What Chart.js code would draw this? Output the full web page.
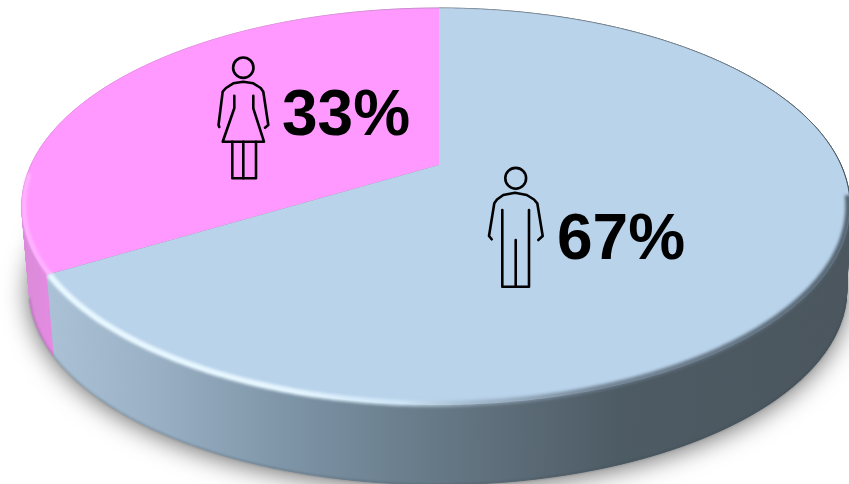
<!DOCTYPE html>
<html>
<head>
<meta charset="utf-8">
<style>
  html, body { margin: 0; padding: 0; background: #fff; overflow: hidden; }
  #chartGender { display: block; }
</style>
<script src="https://cdn.jsdelivr.net/npm/chart.js@4"></script>
</head>
<body>
<canvas id="chartGender" width="849" height="484"></canvas>
<script>
var categories = ["Men", "Women"];
var shares = [67, 33];
var shareColors = ["#B9D3EB", "#FF99FF"];

// perspective of the disc: apex of the slices and how the circle maps on screen
var APEX_X = 439, APEX_Y = 165;
var SIDE_L = 408, SIDE_R = 402, DEPTH_B = 189.8, TILT = 0.209;
var WALL_DROP = 84, WALL_SHRINK = 0.982, WALL_SHRINK_R = 0.992;
// the circle's widest points sit a little in front of its middle
var SIDE_ANGLE = 0.21;
// small camera yaw, keeps the top of the disc on the first slice boundary
var YAW = 0.045;

function topPoint(a, k) {
  var t = a + YAW * Math.sin(a + Math.PI / 2);
  var u = Math.cos(t) * (k || 1), v = Math.sin(t) * (k || 1);
  var w = 1 - TILT * v;
  return { x: APEX_X + (u < 0 ? SIDE_L : SIDE_R) * u / w, y: APEX_Y + DEPTH_B * v / w };
}

function bottomPoint(a) {
  var p = topPoint(a);
  var sx = p.x > APEX_X ? WALL_SHRINK_R : WALL_SHRINK;
  return {
    x: APEX_X + (p.x - APEX_X) * sx,
    y: APEX_Y + WALL_DROP + (p.y - APEX_Y) * WALL_SHRINK
  };
}

function tracePoints(ctx, fn, from, to, k, joined) {
  var n = Math.max(4, Math.ceil(Math.abs(to - from) / 0.01));
  for (var i = 0; i <= n; i++) {
    var p = fn(from + (to - from) * i / n, k);
    if (i === 0 && !joined) ctx.moveTo(p.x, p.y); else ctx.lineTo(p.x, p.y);
  }
}

function xGradient(ctx, stops) {
  var g = ctx.createLinearGradient(0, 0, 849, 0);
  stops.forEach(function (s) { g.addColorStop(s[0] / 849, s[1]); });
  return g;
}

function drawShadow(ctx) {
  ctx.save();
  ctx.shadowColor = "rgba(0,0,0,0.6)";
  ctx.shadowBlur = 26;
  ctx.shadowOffsetY = 3;
  ctx.fillStyle = "#888";
  ctx.beginPath();
  tracePoints(ctx, bottomPoint, 0, Math.PI * 2);
  ctx.closePath();
  ctx.fill();
  ctx.restore();
}

function drawWall(ctx, arc, fill) {
  ctx.fillStyle = fill;
  ctx.strokeStyle = fill;
  ctx.lineWidth = 1;
  var step = 0.012, a = arc.startAngle;
  while (a < arc.endAngle) {
    var b = Math.min(a + step, arc.endAngle);
    var p1 = topPoint(a), p2 = topPoint(b), p3 = bottomPoint(b), p4 = bottomPoint(a);
    ctx.beginPath();
    ctx.moveTo(p1.x, p1.y);
    ctx.lineTo(p2.x, p2.y);
    ctx.lineTo(p3.x, p3.y);
    ctx.lineTo(p4.x, p4.y);
    ctx.closePath();
    ctx.fill();
    ctx.stroke();
    a = b;
  }
}

function drawTop(ctx, arc, color) {
  ctx.fillStyle = color;
  ctx.beginPath();
  ctx.moveTo(APEX_X, APEX_Y);
  tracePoints(ctx, topPoint, arc.startAngle, arc.endAngle, 1, true);
  ctx.closePath();
  ctx.fill();
}

function drawRim(ctx, seam) {
  ctx.save();
  // lower edge of the side wall
  ctx.filter = "blur(0.8px)";
  ctx.lineWidth = 1.3;
  ctx.strokeStyle = "rgba(50,60,68,0.35)";
  ctx.beginPath();
  tracePoints(ctx, bottomPoint, SIDE_ANGLE, Math.PI - SIDE_ANGLE);
  ctx.stroke();

  // thin grey line along the far edge
  ctx.filter = "blur(0.4px)";
  ctx.lineWidth = 1;
  ctx.strokeStyle = xGradient(ctx, [[22, "rgba(225,140,225,0.4)"], [300, "rgba(190,160,190,0.3)"], [439, "rgba(120,130,140,0.4)"], [700, "rgba(110,125,135,0.7)"], [849, "rgba(60,75,85,0.95)"]]);
  ctx.beginPath();
  tracePoints(ctx, topPoint, Math.PI - SIDE_ANGLE, Math.PI * 2 + SIDE_ANGLE);
  ctx.stroke();

  // soft bevel on the near edge, dark on the right and bright on the left
  ctx.filter = "blur(1.8px)";
  ctx.lineWidth = 6;
  ctx.strokeStyle = xGradient(ctx, [[48, "rgba(232,248,255,1)"], [290, "rgba(230,246,255,1)"], [400, "rgba(210,232,248,0.85)"], [480, "rgba(150,170,188,0.7)"], [600, "rgba(105,120,135,0.85)"], [849, "rgba(80,95,107,0.95)"]]);
  ctx.beginPath();
  tracePoints(ctx, topPoint, SIDE_ANGLE - 0.1, seam, 0.996);
  ctx.stroke();

  ctx.strokeStyle = "rgba(255,190,255,0.8)";
  ctx.lineWidth = 4;
  ctx.beginPath();
  tracePoints(ctx, topPoint, seam, Math.PI, 0.995);
  ctx.stroke();
  ctx.restore();
}

function drawIcon(ctx, head, paths) {
  ctx.save();
  ctx.strokeStyle = "#000";
  ctx.lineWidth = 2.6;
  ctx.lineJoin = "round";
  ctx.lineCap = "round";
  ctx.beginPath();
  ctx.arc(head[0], head[1], head[2], 0, Math.PI * 2);
  ctx.stroke();
  paths.forEach(function (pts) {
    ctx.beginPath();
    pts.forEach(function (p, i) {
      if (i === 0) ctx.moveTo(p[0], p[1]); else ctx.lineTo(p[0], p[1]);
    });
    ctx.stroke();
  });
  ctx.restore();
}

var discPlugin = {
  id: "disc",
  beforeDatasetDraw: function (chart) {
    var ctx = chart.ctx;
    var arcs = chart.getDatasetMeta(0).data;
    var blueWall = xGradient(ctx, [[50, "#AAC1D6"], [150, "#9BB2C6"], [280, "#7F96A9"], [400, "#6B7F8E"], [500, "#5E6E7A"], [620, "#4D5B64"], [849, "#4B565E"]]);
    var pinkWall = xGradient(ctx, [[22, "#D88CD8"], [56, "#E78AE3"]]);
    drawShadow(ctx);
    drawWall(ctx, arcs[1], pinkWall);
    drawWall(ctx, arcs[0], blueWall);
    drawTop(ctx, arcs[1], shareColors[1]);
    drawTop(ctx, arcs[0], shareColors[0]);
    drawRim(ctx, arcs[0].endAngle);
    return false;
  },
  afterDatasetsDraw: function (chart) {
    var ctx = chart.ctx;
    drawIcon(ctx, [243.3, 67.7, 10.2], [
      [[219.3, 127], [218.5, 125], [222.7, 91.7], [226, 88], [233.3, 83.3], [243.3, 81.7], [253.3, 83.3], [260.7, 88], [263.3, 91.7], [268.3, 125], [265, 127.7]],
      [[234.3, 95.7], [234.3, 108.3], [222.7, 141.7], [264, 141.7], [253.3, 108.3], [253.3, 95.7]],
      [[232.3, 141.7], [232.3, 178.3], [256, 178.3], [256, 141.7]],
      [[243.3, 141.7], [243.3, 178.3]]
    ]);
    drawIcon(ctx, [515.7, 178.3, 10.4], [
      [[491.7, 239.3], [489, 236], [494.3, 203.3], [497, 199.5], [503.3, 195], [515, 192.7], [526.7, 195], [534, 199.5], [537.3, 203.3], [542.7, 236], [538.3, 240]],
      [[502.3, 210], [502.3, 286.7], [529, 286.7], [529, 210]],
      [[515.7, 240], [515.7, 286.7]]
    ]);
    ctx.save();
    ctx.fillStyle = "#000";
    ctx.font = "bold 64px 'Liberation Sans', Arial, sans-serif";
    ctx.textBaseline = "alphabetic";
    ctx.fillText(shares[1] + "%", 282, 135);
    ctx.fillText(shares[0] + "%", 557, 259);
    ctx.restore();
  }
};

new Chart(document.getElementById("chartGender"), {
  type: "pie",
  data: {
    labels: categories,
    datasets: [{ data: shares, backgroundColor: shareColors, borderWidth: 0 }]
  },
  options: {
    responsive: false,
    animation: false,
    plugins: { legend: { display: false }, tooltip: { enabled: false } }
  },
  plugins: [discPlugin]
});
</script>
</body>
</html>
